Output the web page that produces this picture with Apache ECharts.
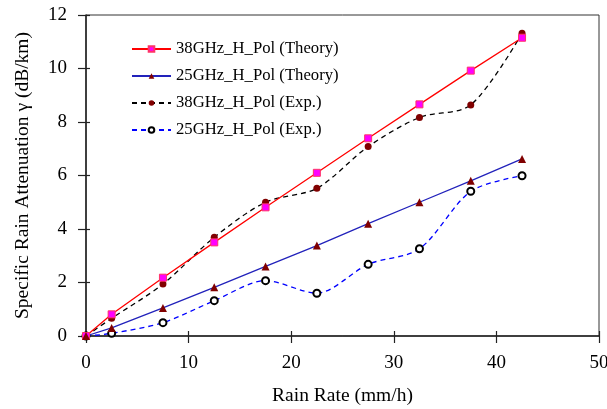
<!DOCTYPE html>
<html><head><meta charset="utf-8">
<script src="https://cdn.jsdelivr.net/npm/echarts@6/dist/echarts.min.js"></script>
<style>html,body{margin:0;padding:0;background:#fff}#c{width:607px;height:409px}</style>
</head><body><div id="c"></div>
<script>
const rainRate = [0, 2.5, 7.5, 12.5, 17.5, 22.5, 27.5, 32.5, 37.5, 42.5];
const theory38 = [0, 0.81, 2.18, 3.50, 4.81, 6.10, 7.39, 8.66, 9.92, 11.15];
const theory25 = [0, 0.30, 1.05, 1.82, 2.60, 3.38, 4.20, 5.00, 5.80, 6.62];
const exp38 = [0, 0.66, 1.94, 3.69, 5.00, 5.52, 7.08, 8.17, 8.64, 11.32];
const exp25 = [0, 0.10, 0.50, 1.32, 2.07, 1.60, 2.68, 3.26, 5.41, 5.99];
const seriesNames = ['38GHz_H_Pol (Theory)', '25GHz_H_Pol (Theory)', '38GHz_H_Pol (Exp.)', '25GHz_H_Pol (Exp.)'];
const pair = a => rainRate.map((x, i) => [x, a[i]]);
const FONT = "'Liberation Serif', 'Times New Roman', serif";
const chart = echarts.init(document.getElementById('c'), null, {renderer: 'canvas'});
const axisCommon = {min: 0, splitLine: {show: false}};
chart.setOption({
  animation: false,
  backgroundColor: '#fff',
  textStyle: {fontFamily: FONT},
  grid: {left: 86, right: 8, top: 15, bottom: 73, show: true, borderColor: '#333', borderWidth: 1,
    containLabel: false, outerBoundsMode: 'none'},
  legend: {
    orient: 'vertical', left: 126, top: 35.5, itemWidth: 39, itemHeight: 7, itemGap: 10,
    textStyle: {fontFamily: FONT, fontSize: 16.7, color: '#000'},
    data: seriesNames
  },
  xAxis: [
    Object.assign({type: 'value', max: 50, interval: 10,
      name: 'Rain Rate (mm/h)', nameLocation: 'middle', nameGap: 50,
      nameTextStyle: {fontFamily: FONT, fontSize: 19.5, color: '#000'},
      axisLine: {onZero: false, lineStyle: {color: '#222', width: 1.5}},
      axisTick: {inside: false, length: 7, lineStyle: {color: '#222', width: 1.2}},
      axisLabel: {margin: 18, fontFamily: FONT, fontSize: 19, color: '#000'}}, axisCommon),
    Object.assign({type: 'value', max: 50, interval: 10, position: 'bottom',
      axisLine: {show: false}, axisLabel: {show: false},
      axisTick: {inside: true, length: 5, lineStyle: {color: '#222', width: 1.2}}}, axisCommon)
  ],
  yAxis: [
    Object.assign({type: 'value', max: 12, interval: 2,
      name: 'Specific Rain Attenuation \u03b3 (dB/km)', nameLocation: 'middle', nameGap: 53,
      nameTextStyle: {fontFamily: FONT, fontSize: 19.5, color: '#000'},
      axisLine: {onZero: false, lineStyle: {color: '#222', width: 1.5}},
      axisTick: {inside: false, length: 8, lineStyle: {color: '#222', width: 1.2}},
      axisLabel: {margin: 19, fontFamily: FONT, fontSize: 19, color: '#000'}}, axisCommon),
    Object.assign({type: 'value', max: 12, interval: 2, position: 'left',
      axisLine: {show: false}, axisLabel: {show: false},
      axisTick: {inside: true, length: 4, lineStyle: {color: '#222', width: 1.2}}}, axisCommon)
  ],
  series: [
    {name: seriesNames[0], type: 'line', data: pair(theory38), symbol: 'rect', symbolSize: 7,
      lineStyle: {color: '#ff0000', width: 1.3}, itemStyle: {color: '#ff00ff', borderColor: '#ff3366', borderWidth: 1}, z: 3},
    {name: seriesNames[1], type: 'line', data: pair(theory25), symbol: 'triangle', symbolSize: 8,
      lineStyle: {color: '#2222bb', width: 1.3}, itemStyle: {color: '#800000'}, z: 3},
    {name: seriesNames[2], type: 'line', data: pair(exp38), symbol: 'circle', symbolSize: 7, smooth: 0.3,
      lineStyle: {color: '#000', width: 1.3, type: [5, 4]}, itemStyle: {color: '#800000'}, z: 2},
    {name: seriesNames[3], type: 'line', data: pair(exp25), symbol: 'circle', symbolSize: 7, smooth: 0.3,
      lineStyle: {color: '#0000ff', width: 1.3, type: [5, 4]}, itemStyle: {color: '#fff', borderColor: '#000', borderWidth: 2}, z: 2}
  ]
});
</script></body></html>
